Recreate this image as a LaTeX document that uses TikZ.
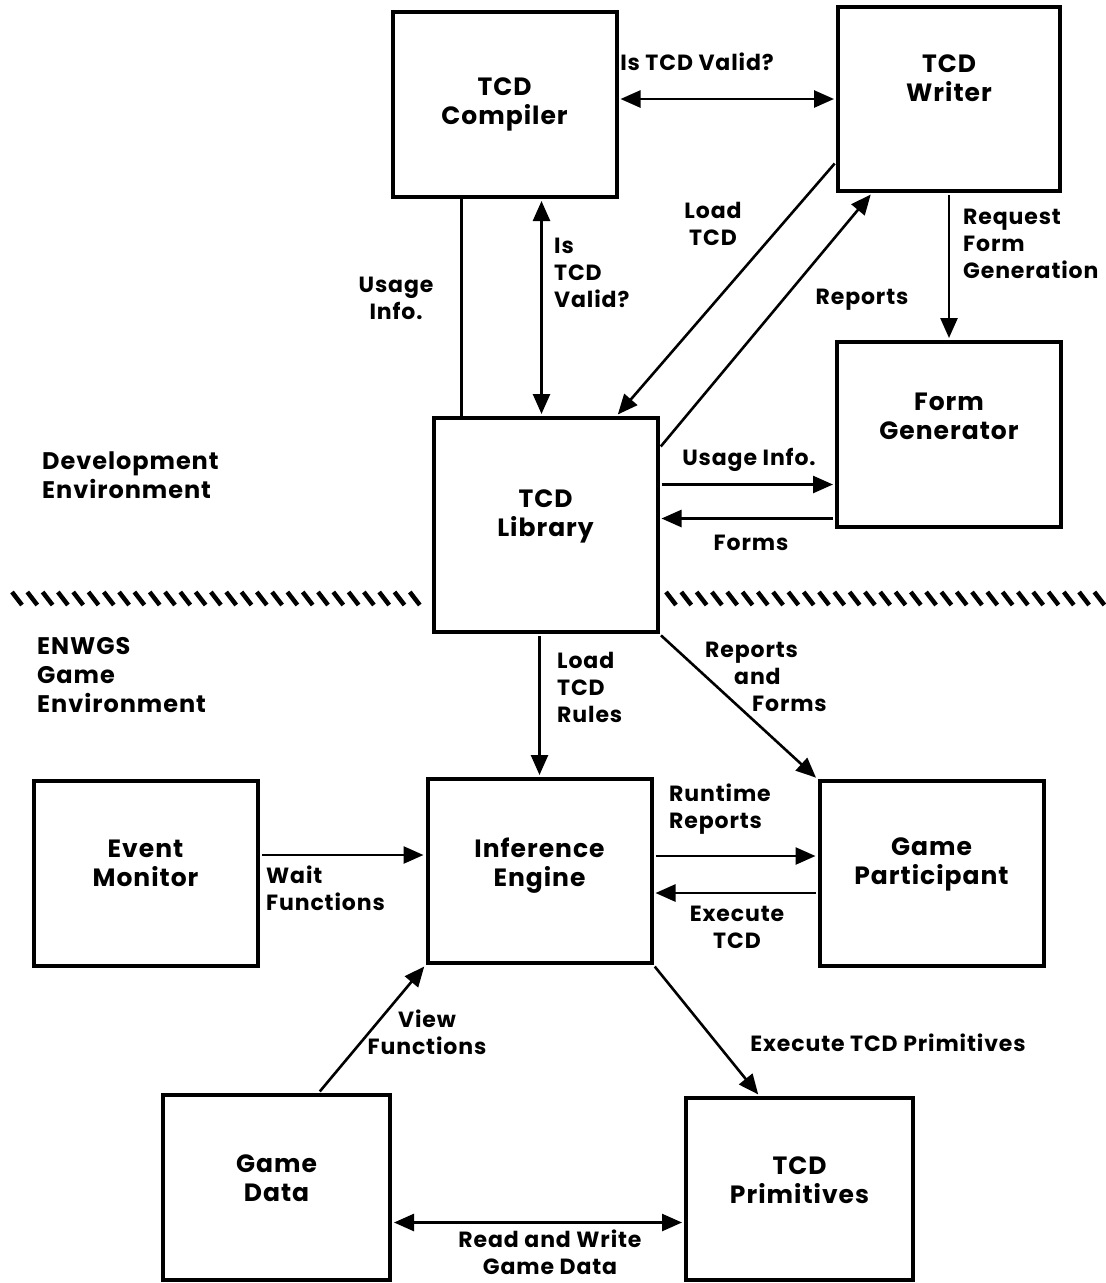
\documentclass[tikz,border=0pt]{standalone}
\usepackage{fontspec}
\setmainfont{Poppins}[LetterSpace=4]
\usepackage{tikz}
\usetikzlibrary{arrows.meta,calc,positioning}
\tikzset{
  blk/.style={draw, line width=4pt, minimum width=224pt, minimum height=185pt,
    align=center, inner sep=0pt, text depth=19pt,
    font=\fontsize{25}{29}\selectfont\bfseries},          % boxes
  tag/.style={align=center, inner sep=0pt,
    font=\fontsize{22}{27}\selectfont\bfseries},          % connector texts
  envtag/.style={tag, anchor=west, align=left,
    font=\fontsize{24}{29}\selectfont\bfseries},          % environment names
  link/.style={line width=2.6pt, shorten <=2pt, shorten >=2pt},
  arr/.style={link, -{Triangle[length=20pt,width=17pt]}},
  both/.style={link, {Triangle[length=20pt,width=17pt]}-{Triangle[length=20pt,width=17pt]}},
  hatch/.style={line width=4.5pt}
}

\begin{document}
\begin{tikzpicture}[x=1pt,y=-1pt]
  \useasboundingbox (0,0) rectangle (1106,1283);
  % development environment
  \node[blk, text depth=7pt] (comp) at (504.5,104.5) {TCD\\Compiler};
  \node[blk, minimum width=222pt, minimum height=184pt, text depth=41pt] (wri) at (949,99) {TCD\\Writer};
  \node[blk, text depth=37pt] (fgen) at (949,434.5) {Form\\Generator};
  \node[blk, minimum height=214pt, text depth=23pt] (lib) at (545.5,525) {TCD\\Library};
  % game environment
  \node[blk, text depth=19pt] (evm) at (145.5,873) {Event\\Monitor};
  \node[blk, minimum height=184pt, text depth=17pt] (inf) at (539.5,871) {Inference\\Engine};
  \node[blk, text depth=25pt] (gpart) at (931.5,873.5) {Game\\Participant};
  \node[blk, minimum width=227pt] (gdat) at (276.5,1187.5) {Game\\Data};
  \node[blk, minimum width=227pt, minimum height=182pt, text depth=17pt] (prim) at (799.5,1189) {TCD\\Primitives};
  % divider between the two environments
  \foreach \x in {12,27.3,...,420} \draw[hatch] (\x,592) -- ++(10,13);
  \foreach \x in {666,681.3,...,1095} \draw[hatch] (\x,592) -- ++(10,13);
  \node[envtag] (dev) at (42,475) {Development\\Environment};
  \node[envtag] (game) at (37,675) {ENWGS\\Game\\Environment};
  % texts on the connectors
  \node[tag] (vq) at (697,62) {Is TCD Valid?};
  \node[tag] (ui) at (396,298) {Usage\\Info.};
  \node[tag, anchor=west, align=left] (vq2) at (554,273) {Is\\TCD\\Valid?};
  \node[tag] (lt) at (713,224) {Load\\TCD};
  \node[tag] (rp) at (862,300) {Reports};
  \node[tag, anchor=west, align=left] (rfg) at (963,244) {Request\\Form\\Generation};
  \node[tag] (ui2) at (749,460) {Usage Info.};
  \node[tag] (fm) at (751,543) {Forms};
  \node[tag, anchor=west, align=left] (ltr) at (557,687) {Load\\TCD\\Rules};
  \node[tag, anchor=west, align=left] (rf) at (705,677) {Reports\\\hspace*{29pt}and\\\hspace*{47pt}Forms};
  \node[tag, anchor=west, align=left] (rr) at (669,809) {Runtime\\Reports};
  \node[tag] (et) at (737,927) {Execute\\TCD};
  \node[tag, anchor=west, align=left] (wf) at (266,888) {Wait\\Functions};
  \node[tag] (vf) at (427,1032) {View\\Functions};
  \node[tag] (etp) at (888,1043) {Execute TCD Primitives};
  \node[tag] (rwg) at (550,1252) {Read and Write\\Game Data};
  % connectors, upper part
  \draw[both] (wri.west -| comp.east) -- (wri.west);
  \coordinate (ui1) at ([xshift=30]lib.north west);
  \draw[line width=2.6pt] (ui1 |- comp.south) -- (ui1);
  \coordinate (vq3) at ([xshift=-4]lib.north);
  \draw[both] (vq3 |- comp.south) -- (vq3);
  \draw[arr] ([yshift=31]wri.south west) -- ([xshift=-43]lib.north east);
  \draw[arr] ([yshift=-32]lib.north east) -- ([xshift=-77]wri.south);
  \draw[arr] (wri.south) -- (fgen.north);
  \coordinate (ui3) at ([yshift=-50]fgen.west);
  \draw[arr] (ui3 -| lib.east) -- (ui3);
  \coordinate (fm1) at ([yshift=-84]fgen.west);
  \draw[arr] (fm1) -- (fm1 -| lib.east);
  % connectors, lower part
  \draw[arr] (inf.north |- lib.south) -- (inf.north);
  \draw[arr] (lib.south east) -- (gpart.north west);
  \coordinate (rt) at ([yshift=15]inf.east);
  \draw[arr] (rt) -- (rt -| gpart.west);
  \coordinate (ex) at ([yshift=-22]inf.east);
  \draw[arr] (ex -| gpart.west) -- (ex);
  \coordinate (wt) at ([yshift=18]evm.east);
  \draw[arr] (wt) -- (wt -| inf.west);
  \draw[arr] ([xshift=42]gdat.north) -- (inf.south west);
  \draw[arr] (inf.south east) -- ([xshift=-40]prim.north);
  \coordinate (rw) at ([yshift=-35]gdat.east);
  \draw[both] (rw) -- (rw -| prim.west);
\end{tikzpicture}
\end{document}
